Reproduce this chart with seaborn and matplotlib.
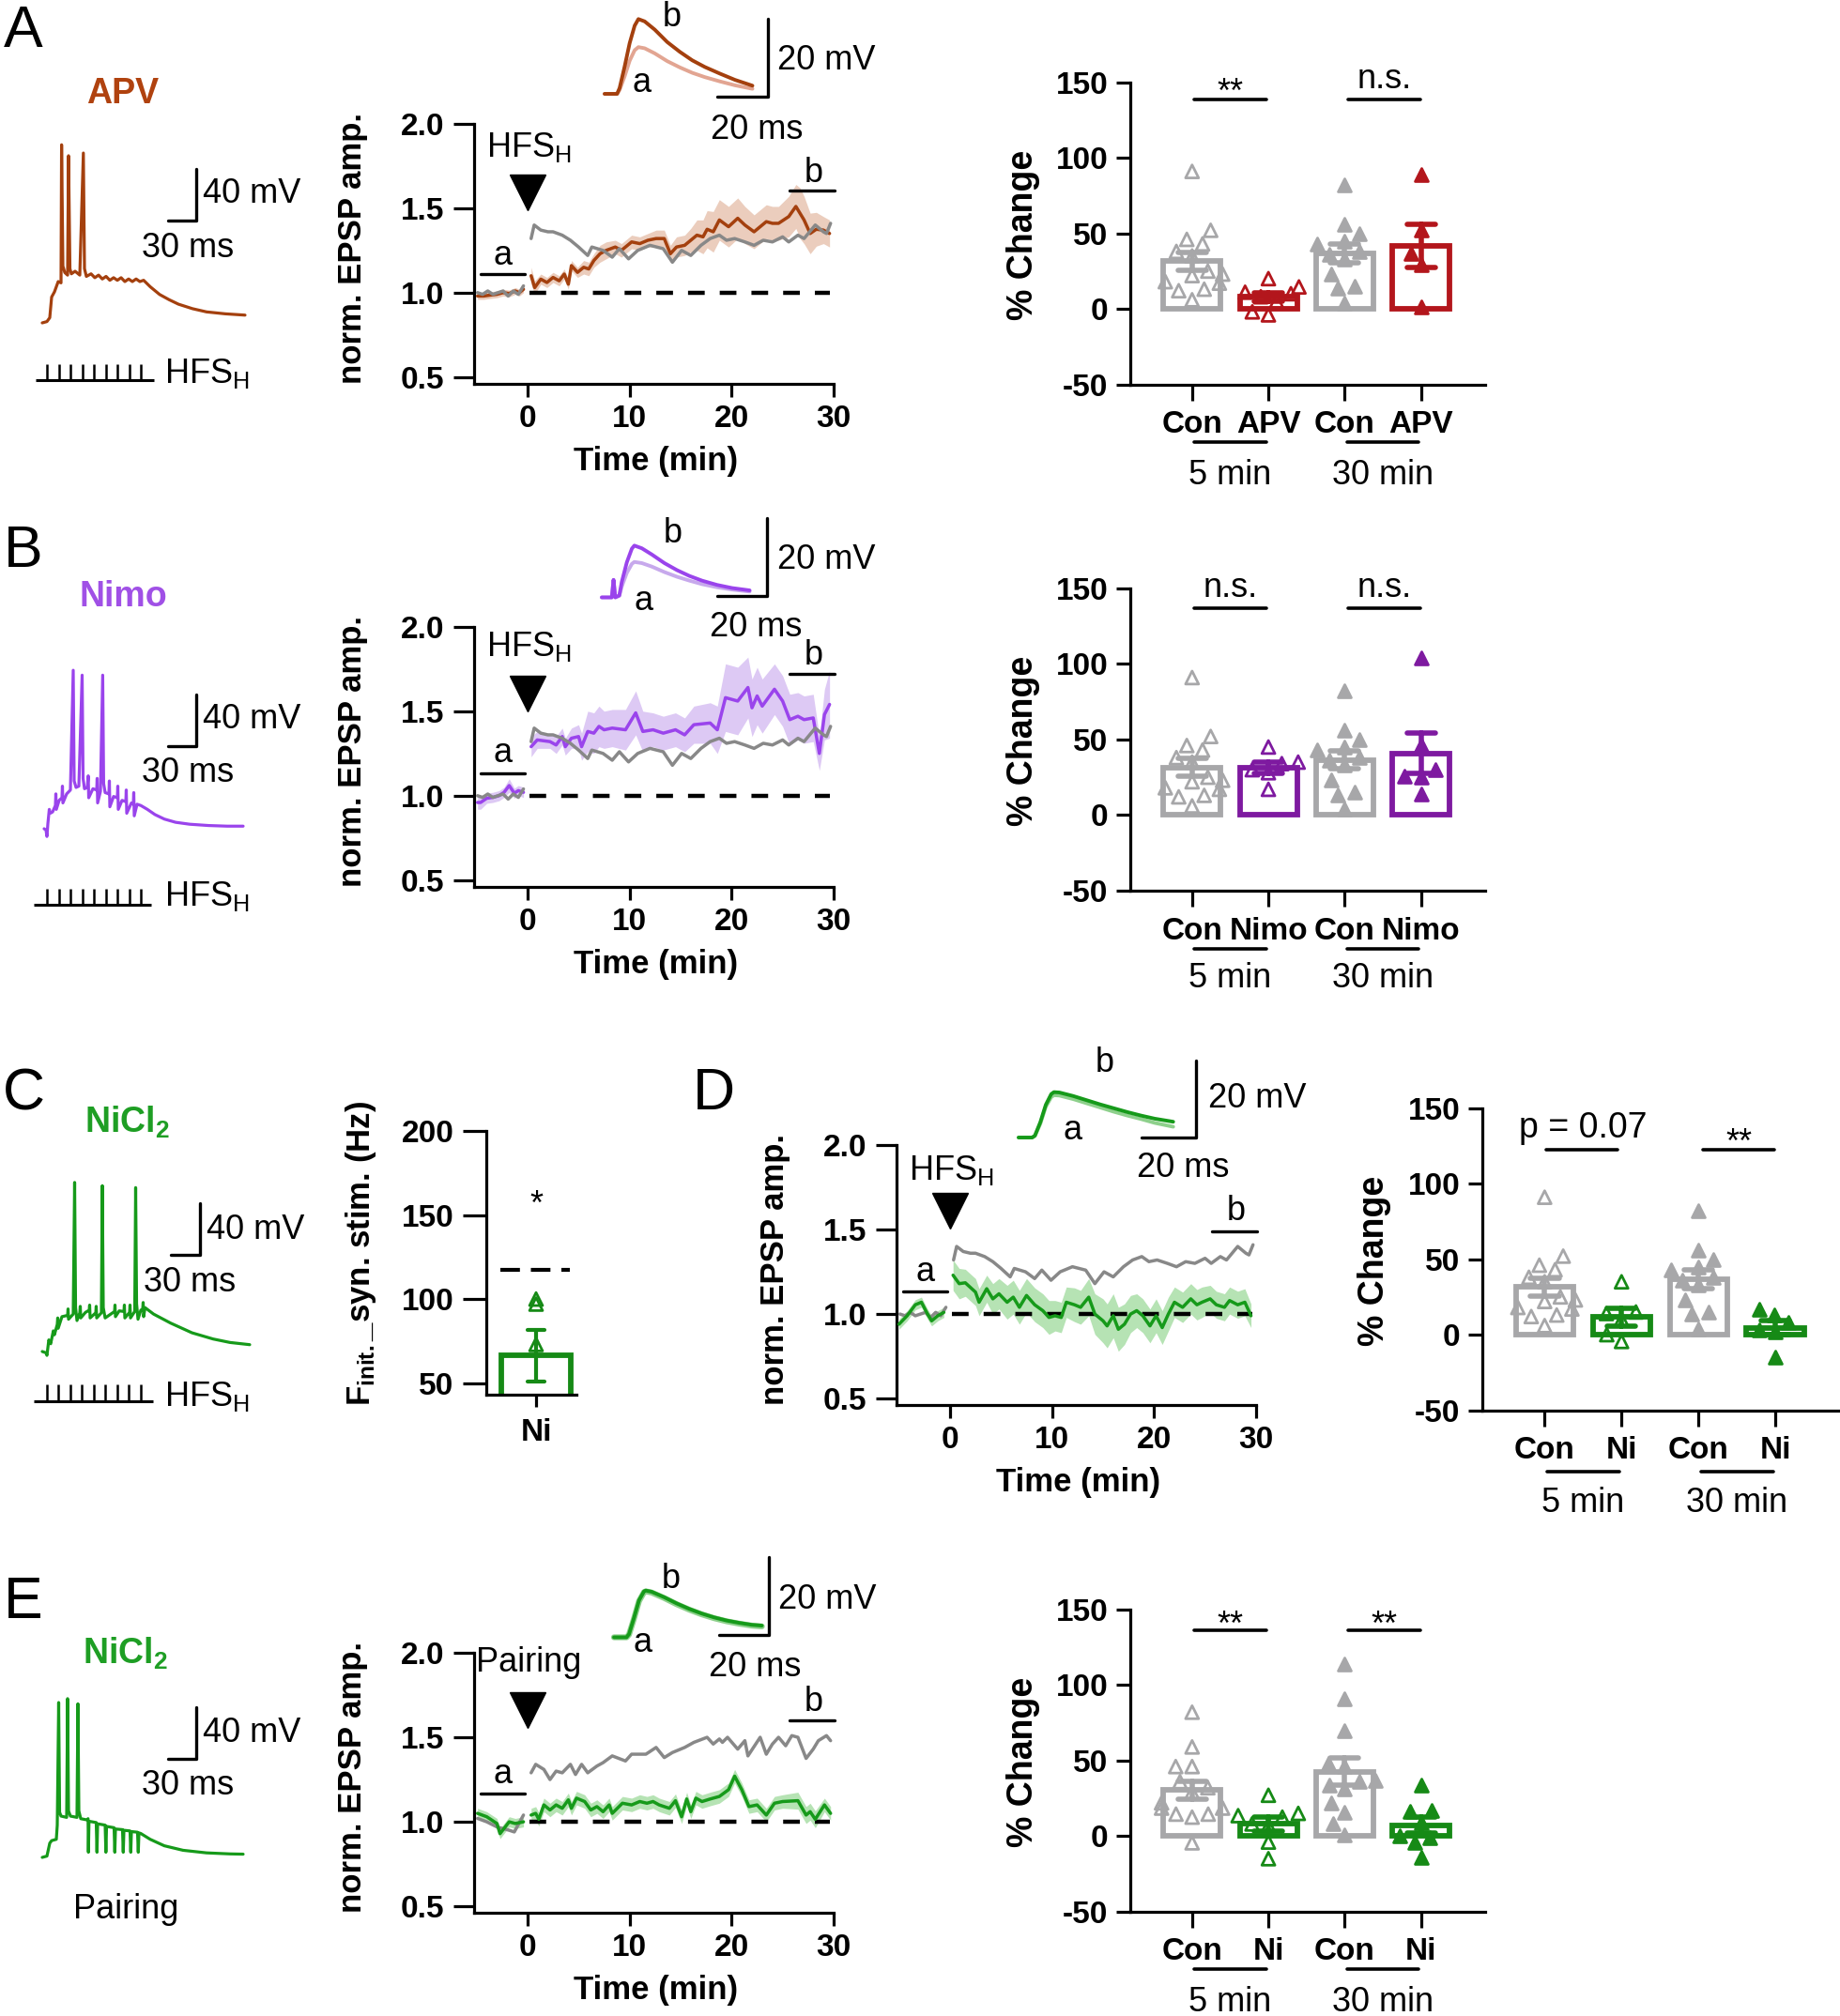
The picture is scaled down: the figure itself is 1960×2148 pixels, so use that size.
import numpy as np
import pandas as pd
import matplotlib
matplotlib.use("Agg")
import matplotlib.pyplot as plt
import seaborn as sns

# ---------------- values ----------------
# induction traces (ms, mV)
apv_spikes = [(0, -70), (5, -69), (8, -66), (10, -50), (13, -46), (17, -38), (20, -39), (20.6, 68), (22, -26),
              (24, -31), (27, -33), (28, 59.5), (29.5, -28), (31, -32), (35, -30), (40, -33), (43.8, 61.6),
              (45, -28), (47, -34), (52, -32), (56, -35), (60, -33), (64, -36), (68, -34), (72, -37), (76, -35),
              (80, -37), (84, -35), (88, -38), (92, -36), (96, -38), (100, -36), (104, -38), (108, -37),
              (115, -42), (125, -48), (135, -52), (145, -55.5), (160, -59), (175, -61.5), (195, -63), (216, -64)]
nimo_spikes = [(0, -70), (2, -71), (3, -76), (4, -66), (5.5, -55), (6.5, -58), (9, -57), (12, -52), (12.5, -43),
               (13, -55), (16, -48), (19, -46), (19.5, -37), (20, -50), (24, -43), (28, -40), (31, 52.8),
               (32, -33), (34, -38), (37, -37), (40.5, 49), (41.5, -31), (43, -39), (46, -38), (47, -29),
               (47.5, -46), (52, -39), (56, -40), (56.5, -31), (57, -50), (60, -41), (62.4, 49), (63.4, -35),
               (65, -42), (69, -43), (69.5, -33), (70, -53), (74, -45), (78, -46), (78.5, -37), (79, -55),
               (83, -48), (87, -49), (87.5, -40), (88, -58), (93, -50), (95, -51), (95.5, -42), (96, -60),
               (99, -51), (103, -52), (110, -55), (118, -59), (128, -62.5), (140, -65), (155, -66.5),
               (175, -67.5), (195, -68), (212, -68)]
ni_hfs_spikes = [(0, -70), (4, -71), (5, -73), (7, -61), (9, -64), (11.8, -54), (13, -57), (16, -49), (16.5, -44),
                 (17, -52), (21, -43), (27, -42), (27.5, -37), (28, -45), (33, -41), (34.5, 61), (35.5, -36),
                 (37, -46), (40, -40), (40.5, -35), (41, -44), (46, -39.7), (50, -38), (50.5, -34), (51, -44),
                 (57, -40), (57.5, -35), (58, -44), (63, -40), (64, 58.5), (65, -36), (67, -44), (73, -41),
                 (77, -39), (77.5, -34), (78, -43), (82, -38.5), (87, -39), (87.5, -34), (88, -44), (93, -39.7),
                 (93.5, -34), (94, -44), (98.5, -39), (99.5, 57), (100.5, -33), (102, -45), (105, -38),
                 (107, -37), (107.5, -32), (108, -43), (109.5, -36), (118.6, -41), (136.8, -48), (159.5, -55.5),
                 (182, -60.3), (200, -63), (221, -64.7)]
ni_pair_spikes = [(0, -70), (5, -69), (8, -59), (10, -57), (15, -56), (16, -45), (17.5, 50), (18.5, -35), (20, -38),
                  (26, -39), (27, 53), (28, -34), (30, -38), (37, -39), (38, 49), (39, -34), (41, -40), (48, -41),
                  (48.8, -40), (49.2, -66), (49.8, -42), (57.5, -43), (58.3, -66), (59, -44), (67, -45),
                  (67.8, -66), (68.5, -46), (76.5, -47), (77.3, -66), (78, -48), (85.5, -48.5), (86.3, -66),
                  (87, -49), (93.5, -49.5), (94.3, -66), (95, -50), (101.5, -50.5), (102.3, -66), (103, -51),
                  (105, -51.5), (115, -56), (130, -61), (150, -64.5), (175, -66.5), (200, -67.3), (214, -67.5)]
stim_ms = [0, 12.5, 25, 37.5, 50, 62.5, 75, 87.5, 100]

# example EPSPs (ms, mV): a = baseline, b = 30 min
apv_epsp_t = [0, 5, 6, 8, 10, 12, 13.5, 16, 20, 25, 30, 35, 40, 46, 52, 59]
apv_epsp_a = [0, 0, 1, 4.5, 8.5, 11.2, 12, 11.7, 10.4, 8.4, 6.8, 5.4, 4.3, 3.2, 2.2, 1.3]
apv_epsp_b = [0, 0, 1.5, 7, 13, 17.5, 19.2, 18.6, 16.5, 13.3, 10.8, 8.6, 6.9, 5.2, 3.6, 2.1]
nimo_epsp_t = [0, 4, 4.7, 5.4, 7, 8, 10, 12, 13, 16, 20, 25, 30, 35, 40, 46, 52, 59]
nimo_epsp_a = [0, 0, 4.5, 0, 0.4, 2.8, 6.3, 8.6, 9.1, 8.8, 7.9, 6.5, 5.3, 4.3, 3.4, 2.6, 2.0, 1.5]
nimo_epsp_b = [0, 0, 4.5, 0, 0.5, 4, 9, 12.5, 13.3, 12.6, 11, 8.8, 7, 5.5, 4.3, 3.2, 2.4, 1.8]
nid_epsp_t = [0, 5, 6, 8, 10, 12, 13, 15, 20, 25, 30, 35, 40, 45, 50, 56.8]
nid_epsp_a = [0, 0, 0.4, 3.6, 8, 10.5, 11, 10.9, 10, 8.9, 7.8, 6.7, 5.7, 4.8, 3.8, 2.8]
nid_epsp_b = [0, 0, 0.5, 4, 8.5, 11.3, 11.8, 11.7, 10.8, 9.7, 8.6, 7.6, 6.6, 5.7, 4.9, 4.1]
nie_epsp_t = [0, 5, 6, 8, 10, 12, 12.7, 15, 20, 25, 30, 35, 40, 45, 50, 55, 59]
nie_epsp_a = [0, 0, 0.7, 4.8, 9.3, 11.6, 11.8, 11.5, 10.1, 8.5, 7.1, 5.9, 4.9, 4.1, 3.5, 3.0, 2.8]
nie_epsp_b = [0, 0, 0.8, 5, 9.5, 11.8, 12, 11.7, 10.3, 8.7, 7.3, 6.1, 5.1, 4.3, 3.7, 3.2, 3.0]

# time courses (min, norm. EPSP amp., sem)
con_pre = [(-4.9, 1.0), (-4.4, 0.99), (-3.9, 1.01), (-3.4, 0.99), (-2.9, 1.0), (-2.4, 1.01), (-1.9, 0.98),
           (-1.4, 1.01), (-0.9, 0.99), (-0.4, 1.04)]
con_post = [(0.35, 1.32), (0.65, 1.40), (1.3, 1.37), (2.0, 1.36), (2.5, 1.36), (3.4, 1.34), (4.2, 1.31), (5.0, 1.27),
            (5.9, 1.22), (6.3, 1.27), (7.4, 1.25), (8.3, 1.21), (9.0, 1.26), (9.9, 1.20), (10.8, 1.25),
            (12.0, 1.28), (13.3, 1.26), (14.2, 1.18), (15.1, 1.25), (16.0, 1.22), (17.0, 1.28), (17.9, 1.32),
            (18.8, 1.34), (19.5, 1.31), (20.3, 1.32), (21.3, 1.30), (22.2, 1.28), (23.1, 1.31), (24.0, 1.30),
            (25.0, 1.33), (25.6, 1.30), (26.5, 1.34), (27.1, 1.32), (28.2, 1.40), (29.0, 1.36), (29.3, 1.35),
            (29.7, 1.41)]
apv_pre = [(-4.9, 0.98, 0.02), (-4.3, 0.98, 0.02), (-3.7, 0.985, 0.02), (-3.0, 0.99, 0.02), (-2.4, 1.0, 0.02),
           (-1.8, 0.995, 0.02), (-1.2, 1.01, 0.02), (-0.8, 1.0, 0.02), (-0.4, 1.02, 0.02)]
apv_post = [(0.35, 1.10, 0.05), (0.7, 1.03, 0.04), (1.3, 1.08, 0.03), (1.9, 1.06, 0.03), (2.5, 1.09, 0.03),
            (3.1, 1.07, 0.03), (3.6, 1.11, 0.03), (4.0, 1.05, 0.03), (4.3, 1.16, 0.03), (4.9, 1.12, 0.03),
            (5.5, 1.15, 0.04), (6.0, 1.14, 0.04), (6.5, 1.19, 0.04), (7.1, 1.23, 0.05), (7.7, 1.25, 0.05),
            (8.6, 1.27, 0.04), (9.2, 1.25, 0.04), (10.2, 1.30, 0.04), (11.0, 1.29, 0.04), (11.8, 1.31, 0.04),
            (12.6, 1.32, 0.05), (13.4, 1.32, 0.05), (14.0, 1.23, 0.05), (14.6, 1.27, 0.06), (15.4, 1.28, 0.06),
            (16.0, 1.31, 0.07), (16.6, 1.34, 0.09), (17.2, 1.33, 0.10), (17.6, 1.375, 0.11), (18.2, 1.36, 0.12),
            (18.8, 1.43, 0.12), (19.7, 1.39, 0.12), (20.6, 1.44, 0.12), (21.3, 1.40, 0.11), (22.2, 1.36, 0.10),
            (23.0, 1.40, 0.10), (23.4, 1.42, 0.10), (24.0, 1.41, 0.10), (24.6, 1.41, 0.10), (25.6, 1.45, 0.12),
            (26.3, 1.51, 0.13), (26.7, 1.47, 0.15), (27.1, 1.43, 0.14), (27.7, 1.35, 0.12), (28.3, 1.375, 0.10),
            (29.0, 1.37, 0.08), (29.6, 1.35, 0.08)]
nimo_pre = [(-4.9, 0.96, 0.04), (-4.6, 0.96, 0.04), (-4.0, 0.985, 0.03), (-3.4, 0.99, 0.03), (-2.8, 1.0, 0.03),
            (-2.3, 1.02, 0.03), (-1.8, 1.06, 0.04), (-1.3, 1.015, 0.03), (-0.9, 1.03, 0.03), (-0.4, 1.02, 0.03)]
nimo_post = [(0.35, 1.29, 0.06), (0.95, 1.33, 0.05), (2.2, 1.32, 0.04), (2.8, 1.30, 0.05), (3.4, 1.35, 0.05),
             (3.7, 1.29, 0.05), (4.3, 1.34, 0.06), (5.0, 1.35, 0.07), (5.3, 1.29, 0.08), (5.9, 1.38, 0.12),
             (6.5, 1.37, 0.12), (7.0, 1.41, 0.12), (7.5, 1.39, 0.11), (8.3, 1.40, 0.11), (9.6, 1.39, 0.12),
             (10.6, 1.49, 0.13), (11.3, 1.38, 0.12), (12.3, 1.39, 0.10), (13.3, 1.37, 0.10), (14.5, 1.39, 0.10),
             (15.4, 1.36, 0.10), (16.3, 1.42, 0.11), (17.9, 1.43, 0.12), (18.6, 1.39, 0.14), (19.4, 1.58, 0.20),
             (20.6, 1.56, 0.20), (21.6, 1.64, 0.18), (22.0, 1.52, 0.17), (22.5, 1.59, 0.17), (23.0, 1.53, 0.16),
             (24.2, 1.63, 0.15), (25.0, 1.56, 0.15), (25.7, 1.45, 0.15), (26.5, 1.47, 0.14), (27.1, 1.45, 0.14),
             (28.0, 1.46, 0.14), (28.6, 1.25, 0.10), (29.1, 1.48, 0.15), (29.6, 1.54, 0.20)]
nid_pre = [(-5.0, 0.94, 0.03), (-4.2, 0.99, 0.03), (-3.4, 1.055, 0.03), (-2.8, 1.07, 0.03), (-2.2, 1.0, 0.03),
           (-1.8, 0.96, 0.03), (-1.2, 0.99, 0.03), (-0.6, 1.01, 0.03)]
nid_post = [(0.3, 1.23, 0.09), (0.9, 1.18, 0.09), (1.5, 1.185, 0.08), (2.5, 1.13, 0.08), (2.85, 1.07, 0.08),
            (3.6, 1.15, 0.08), (4.2, 1.09, 0.09), (4.8, 1.12, 0.09), (5.6, 1.07, 0.10), (6.2, 1.10, 0.10),
            (6.8, 1.04, 0.10), (7.5, 1.11, 0.10), (8.3, 1.055, 0.10), (9.1, 1.02, 0.10), (9.7, 0.98, 0.10),
            (10.3, 0.99, 0.09), (10.9, 0.98, 0.09), (11.4, 1.07, 0.09), (12.2, 1.055, 0.10), (12.8, 1.04, 0.10),
            (13.6, 1.10, 0.11), (14.2, 1.0, 0.12), (15.0, 0.96, 0.13), (15.4, 0.93, 0.13), (16.0, 0.99, 0.13),
            (16.5, 0.91, 0.13), (17.1, 0.94, 0.12), (17.7, 1.0, 0.11), (18.3, 1.02, 0.10), (18.9, 0.99, 0.10),
            (19.6, 0.93, 0.10), (20.2, 0.99, 0.10), (20.8, 0.92, 0.10), (21.4, 1.0, 0.10), (22.0, 1.07, 0.09),
            (22.8, 1.04, 0.09), (23.6, 1.09, 0.09), (24.2, 1.055, 0.09), (24.7, 1.07, 0.09), (25.5, 1.09, 0.08),
            (26.1, 1.055, 0.08), (26.9, 1.04, 0.08), (27.4, 1.08, 0.08), (28.2, 1.055, 0.08), (28.9, 1.07, 0.08),
            (29.5, 0.99, 0.07)]
nie_pre = [(-4.9, 1.05, 0.03), (-4.0, 1.03, 0.03), (-3.0, 0.99, 0.03), (-2.7, 0.93, 0.03), (-1.8, 1.0, 0.03),
           (-1.2, 0.99, 0.03), (-0.4, 1.0, 0.03)]
nie_post = [(0.35, 1.04, 0.04), (0.8, 1.05, 0.04), (1.1, 1.015, 0.04), (1.6, 1.10, 0.04), (2.2, 1.07, 0.04),
            (2.8, 1.10, 0.04), (3.4, 1.08, 0.04), (4.0, 1.13, 0.04), (4.3, 1.08, 0.04), (4.8, 1.14, 0.04),
            (5.6, 1.12, 0.04), (6.2, 1.07, 0.04), (6.8, 1.09, 0.04), (7.4, 1.06, 0.04), (8.0, 1.10, 0.04),
            (8.3, 1.05, 0.04), (9.3, 1.11, 0.04), (10.2, 1.10, 0.04), (11.0, 1.12, 0.04), (11.7, 1.11, 0.04),
            (12.3, 1.12, 0.04), (12.9, 1.10, 0.04), (13.9, 1.08, 0.04), (14.5, 1.125, 0.04), (15.1, 1.03, 0.04),
            (15.6, 1.135, 0.04), (16.0, 1.06, 0.04), (16.5, 1.14, 0.04), (17.1, 1.12, 0.04), (17.9, 1.135, 0.04),
            (18.8, 1.15, 0.04), (19.7, 1.19, 0.04), (20.3, 1.27, 0.04), (21.0, 1.19, 0.04), (21.7, 1.09, 0.04),
            (22.5, 1.10, 0.04), (23.4, 1.04, 0.04), (24.2, 1.11, 0.04), (25.0, 1.12, 0.04), (26.5, 1.125, 0.05),
            (27.3, 1.04, 0.05), (27.7, 1.06, 0.05), (28.2, 1.015, 0.05), (29.1, 1.10, 0.04), (29.7, 1.05, 0.04)]
cone_pre = [(-4.9, 1.02), (-4.0, 1.0), (-3.0, 0.97), (-1.8, 0.95), (-1.3, 0.94), (-0.4, 1.04)]
cone_post = [(0.35, 1.29), (0.8, 1.34), (1.6, 1.31), (2.2, 1.25), (2.8, 1.30), (3.4, 1.29), (4.2, 1.34), (4.7, 1.28),
             (5.3, 1.34), (5.9, 1.29), (6.8, 1.33), (7.4, 1.35), (8.3, 1.39), (9.6, 1.36), (10.2, 1.40),
             (11.6, 1.40), (12.6, 1.44), (13.4, 1.38), (14.2, 1.41), (15.4, 1.44), (16.3, 1.47), (17.6, 1.50),
             (18.2, 1.46), (18.8, 1.49), (19.1, 1.47), (19.6, 1.50), (20.6, 1.43), (21.3, 1.48), (21.6, 1.39),
             (22.8, 1.50), (23.4, 1.40), (24.0, 1.46), (24.6, 1.50), (25.3, 1.45), (25.9, 1.51), (26.5, 1.50),
             (27.3, 1.375), (28.0, 1.43), (28.5, 1.48), (29.3, 1.51), (29.7, 1.48)]

# % change per cell
con5 = [91, 52, 46, 43, 38, 35, 25, 23, 22, 18, 17, 13, 12, 6]
con30 = [82, 56, 50, 45, 43, 38, 36, 33, 23, 15, 13.5, 4]
apv5 = [20, 14.5, 11, 10, 8, 5, -2, -4]
apv30 = [89, 52, 37, 29, 1]
nimo5 = [45, 35, 34, 30, 28, 17]
nimo30 = [104, 46, 30, 26, 25, 14]
ni5 = [35, 15, 14, 10, 0, -4.5]
ni30 = [17, 13, 8, 3, 2, -15]
pair_con5 = [82, 59, 46, 46, 36, 32, 29, 22, 18.5, 18.5, 14.5, 12.5, 14.5, -4.5]
pair_con30 = [114, 91, 70, 48, 46, 37, 36, 34, 31, 22, 16, 8, 1]
pair_ni5 = [27, 15, 13.5, 12.5, 8, 7, -4, -15]
pair_ni30 = [33.5, 17, 16.5, 9, 0, -1, -4.5, -14]
finit_ni = [100, 97, 73, 38, 24]
finit_con = 117.6

# ---------------- style ----------------
sns.set_theme(style="ticks")
plt.rcParams["font.family"] = ["Liberation Sans", "DejaVu Sans"]
plt.rcParams["mathtext.fontset"] = "custom"
plt.rcParams["mathtext.rm"] = "Liberation Sans"
plt.rcParams["mathtext.bf"] = "Liberation Sans:bold"
plt.rcParams["mathtext.it"] = "Liberation Sans:italic"
for k in ["text.color", "axes.edgecolor", "axes.labelcolor", "xtick.color", "ytick.color"]:
    plt.rcParams[k] = "black"
plt.rcParams["axes.linewidth"] = 2.3

APV_C, APV_BAND, APV_BAR, APV_A = "#A4400E", "#EBCDBD", "#B3161C", "#E2A592"
NIMO_C, NIMO_BAND, NIMO_BAR, NIMO_A = "#9A44EC", "#DDC9F4", "#7E1AA0", "#C7A9EC"
NI_C, NI_BAND, NI_BAR, NI_A = "#169A1A", "#B6E3B4", "#168A16", "#8ED08C"
GRAY_BAR, GRAY_LINE = "#A7A7A9", "#888888"
DASH = (0, (4.0, 3.6))
TICK_FS, LAB_FS, TXT_FS = 24, 25, 26

W, H = 1960, 2148
fig = plt.figure(figsize=(W / 100, H / 100), dpi=100)


def px_axes(l, t, r, b):
    ax = fig.add_axes([l / W, 1 - b / H, (r - l) / W, (b - t) / H])
    ax.set_facecolor("none")
    return ax


def ftext(x, y, s, **kw):
    kw.setdefault("ha", "center")
    kw.setdefault("va", "center")
    fig.text(x / W, 1 - y / H, s, **kw)


def trace_axes(box, x0, y0, sx, sy, v0=0.0):
    l, t, r, b = box
    ax = px_axes(l, t, r, b)
    ax.set_xlim((l - x0) / sx, (r - x0) / sx)
    ax.set_ylim(v0 + (y0 - b) / sy, v0 + (y0 - t) / sy)
    ax.axis("off")
    return ax


def spike_panel(box, origin, pairs, color, bars, stim=None):
    ax = trace_axes(box, origin[0], origin[1], 1.0, 1.375, v0=-70)
    t, v = zip(*pairs)
    sns.lineplot(x=list(t), y=list(v), sort=False, estimator=None, color=color, lw=2.3, ax=ax)
    tb0, tb1, vb0, vb1 = bars
    ax.plot([tb0, tb1, tb1], [vb0, vb0, vb1], color="black", lw=2.4)
    if stim:
        onset, t0, t1, vbase, vtop = stim
        ax.hlines(vbase, t0, t1, color="black", lw=2.2)
        ax.vlines([onset + s for s in stim_ms], vbase, vtop, color="black", lw=1.8)


def epsp_inset(box, origin, sx, sy, t, a, b, col_a, col_b, bar_t, bar_v, lw_a=2.8):
    ax = trace_axes(box, origin[0], origin[1], sx, sy)
    sns.lineplot(x=t, y=a, sort=False, estimator=None, color=col_a, lw=lw_a, ax=ax)
    sns.lineplot(x=t, y=b, sort=False, estimator=None, color=col_b, lw=2.8, ax=ax)
    ax.plot([bar_t - 20, bar_t, bar_t], [bar_v, bar_v, bar_v + 20], color="black", lw=2.4)


def draw_series(ax, pre, post, color, band=None, lw=2.5, z=3):
    if band is not None:
        for seg in (pre, post):
            arr = np.array(seg, dtype=float)
            ax.fill_between(arr[:, 0], arr[:, 1] - arr[:, 2], arr[:, 1] + arr[:, 2], color=band, lw=0, zorder=1)
    rows = [(p[0], p[1], "pre") for p in pre] + [(p[0], p[1], "post") for p in post]
    df = pd.DataFrame(rows, columns=["t", "v", "seg"])
    sns.lineplot(data=df, x="t", y="v", units="seg", estimator=None, sort=False, color=color, lw=lw,
                 ax=ax, zorder=z)


def time_axes(left, top, label, label_y, a_y, a_txt, b_y, b_txt, tri_y):
    ax = px_axes(left, top, left + 383, top + 277)
    ax.set_xlim(-5.24, 30)
    ax.set_ylim(0.462, 2.0)
    ax.hlines(1.0, 0.2, 29.6, colors="black", linestyles=DASH, lw=3.2, zorder=2)
    ax.plot([-4.6, -0.3], [a_y, a_y], color="black", lw=2.4)
    ax.text(-2.4, a_txt, "a", fontsize=TXT_FS, ha="center", va="center")
    ax.plot([25.7, 30.1], [b_y, b_y], color="black", lw=2.4, clip_on=False)
    ax.text(28.0, b_txt, "b", fontsize=TXT_FS, ha="center", va="center")
    ax.plot([0], [tri_y], marker="v", ms=27, color="black", clip_on=False)
    ax.text(0.1, label_y, label, fontsize=TXT_FS, ha="center", va="center")
    return ax


def finish_time_axes(ax):
    sns.despine(ax=ax)
    ax.set_xlim(-5.24, 30)
    ax.set_ylim(0.462, 2.0)
    ax.set_xticks([0, 10, 20, 30], ["0", "10", "20", "30"], fontweight="bold", fontsize=TICK_FS)
    ax.set_yticks([0.5, 1.0, 1.5, 2.0], ["0.5", "1.0", "1.5", "2.0"], fontweight="bold", fontsize=TICK_FS)
    ax.tick_params(axis="y", length=16, width=2.3, pad=7)
    ax.tick_params(axis="x", length=10, width=2.3, pad=6)
    ax.set_ylabel("norm. EPSP amp.", fontweight="bold", fontsize=LAB_FS)
    ax.yaxis.set_label_coords(-0.295, 0.52)
    ax.set_xlabel("Time (min)", fontweight="bold", fontsize=LAB_FS)
    ax.xaxis.set_label_coords(0.505, -0.24)


def pct_panel(left, top, right, groups, colors, ticklabels, sig, under_y, min_y):
    names = ["c5", "t5", "c30", "t30"]
    ax = px_axes(left, top, right, top + 321.8)
    df = pd.DataFrame([(n, v) for n, vals in zip(names, groups) for v in vals], columns=["grp", "val"])
    pal = dict(zip(names, colors))
    sns.barplot(data=df, x="grp", y="val", hue="grp", order=names, hue_order=names, palette=pal, fill=False,
                errorbar="se", capsize=0.37, width=0.75, linewidth=4.2, err_kws={"linewidth": 4.0},
                legend=False, ax=ax)
    for i, n in enumerate(names):
        k = len(ax.collections)
        sns.swarmplot(data=df[df.grp == n], x="grp", y="val", order=names, color=colors[i],
                      edgecolor=colors[i], linewidth=2.0, marker="^", size=10, ax=ax, zorder=4)
        if i in (0, 1):
            for c in ax.collections[k:]:
                c.set_facecolor("none")
    sns.despine(ax=ax)
    ax.set_xlim(-0.81, 3.84)
    ax.set_ylim(-50, 150)
    ax.set_yticks([-50, 0, 50, 100, 150], ["-50", "0", "50", "100", "150"], fontweight="bold", fontsize=TICK_FS)
    ax.set_xticks(range(4), ticklabels, fontweight="bold", fontsize=TICK_FS)
    ax.tick_params(axis="y", length=11, width=2.3, pad=6)
    ax.tick_params(axis="x", length=12, width=2.3, pad=8)
    ax.set_xlabel("")
    ax.set_ylabel("% Change", fontweight="bold", fontsize=27)
    ax.yaxis.set_label_coords(-0.255, 0.494)
    for x0, x1, txt, ty, ly in sig:
        ax.plot([x0, x1], [ly, ly], color="black", lw=2.6, clip_on=False)
        ax.text((x0 + x1) / 2, ty, txt, fontsize=TXT_FS, ha="center", va="baseline", clip_on=False)
    for p, lab in ((0, "5 min"), (2, "30 min")):
        ax.plot([p + 0.03, p + 0.97], [under_y, under_y], color="black", lw=2.6, clip_on=False)
        ax.text(p + 0.5, min_y, lab, fontsize=TXT_FS, ha="center", va="center", clip_on=False)
    return ax


HFS = r"HFS$_\mathregular{H}$"

# ---------------- panel letters & drug labels ----------------
for s, x, y in (("A", 25, 33), ("B", 25, 587), ("C", 25, 1166), ("D", 760, 1166), ("E", 25, 1707)):
    ftext(x, y, s, fontsize=45)
ftext(131, 100, "APV", fontsize=27, fontweight="bold", color="#B0420F")
ftext(131, 636, "Nimo", fontsize=27, fontweight="bold", color="#A050E6")
ftext(135, 1196, r"NiCl$_\mathbf{2}$", fontsize=27, fontweight="bold", color="#1E9E24")
ftext(133, 1762, r"NiCl$_\mathbf{2}$", fontsize=27, fontweight="bold", color="#1E9E24")

# ---------------- induction traces ----------------
spike_panel((0, 110, 480, 440), (45, 344), apv_spikes, APV_C, (134, 164, 9.3, 49.3), (5, -7.5, 119, -114.4, -102))
spike_panel((0, 680, 480, 1000), (47, 883), nimo_spikes, NIMO_C, (132, 162, -6, 34), (3, -11, 114, -128.9, -116.5))
spike_panel((0, 1230, 480, 1520), (45, 1440), ni_hfs_spikes, NI_C, (137, 167.7, 5.1, 45.1),
            (4.5, -9, 118, -108.8, -95.5))
spike_panel((0, 1790, 480, 2000), (45, 1979), ni_pair_spikes, NI_C, (134, 164, 6.5, 46.5))
for y40, y30, yh in ((207, 264, 398), (767, 824, 955)):
    ftext(216, y40, "40 mV", fontsize=TXT_FS, ha="left")
    ftext(151, y30, "30 ms", fontsize=TXT_FS, ha="left")
    ftext(175, yh, HFS, fontsize=TXT_FS, ha="left")
ftext(220, 1310, "40 mV", fontsize=TXT_FS, ha="left")
ftext(153, 1366, "30 ms", fontsize=TXT_FS, ha="left")
ftext(175, 1488, HFS, fontsize=TXT_FS, ha="left")
ftext(216, 1846, "40 mV", fontsize=TXT_FS, ha="left")
ftext(151, 1903, "30 ms", fontsize=TXT_FS, ha="left")
ftext(134, 2035, "Pairing", fontsize=TXT_FS)

# ---------------- EPSP insets ----------------
epsp_inset((600, 0, 900, 170), (644, 100), 2.67, 4.15, apv_epsp_t, apv_epsp_a, apv_epsp_b, APV_A, APV_C, 65, -0.8)
epsp_inset((600, 540, 900, 700), (641, 636.5), 2.67, 4.15, nimo_epsp_t, nimo_epsp_a, nimo_epsp_b, NIMO_A, NIMO_C,
           66.1, 0.4)
epsp_inset((1050, 1100, 1340, 1260), (1085, 1212), 2.9, 4.1, nid_epsp_t, nid_epsp_a, nid_epsp_b, NI_A, NI_C,
           65.2, 0)
epsp_inset((600, 1640, 900, 1800), (654, 1744.5), 2.67, 4.15, nie_epsp_t, nie_epsp_a, nie_epsp_b, NI_A, NI_C,
           61.8, 0.6, lw_a=4.5)
for (bx, by), (ax_, ay), (mx, my), (sx_, sy_) in (
        ((716, 19), (684, 88), (828, 64), (806, 138)),
        ((717, 569), (686, 640), (828, 597), (805, 669)),
        ((1177, 1133), (1143, 1204), (1287, 1171), (1260, 1244)),
        ((715, 1682), (685, 1750), (829, 1704), (804, 1776))):
    ftext(bx, by, "b", fontsize=TXT_FS)
    ftext(ax_, ay, "a", fontsize=TXT_FS)
    ftext(mx, my, "20 mV", fontsize=TXT_FS, ha="left")
    ftext(sx_, sy_, "20 ms", fontsize=TXT_FS)

# ---------------- time courses ----------------
ax = time_axes(505, 131.7, HFS, 1.857, 1.11, 1.22, 1.605, 1.705, 1.595)
draw_series(ax, apv_pre, apv_post, APV_C, APV_BAND, z=3)
draw_series(ax, con_pre, con_post, GRAY_LINE, z=4)
finish_time_axes(ax)

ax = time_axes(505, 667.7, HFS, 1.88, 1.13, 1.25, 1.72, 1.83, 1.605)
draw_series(ax, nimo_pre, nimo_post, NIMO_C, NIMO_BAND, z=3)
draw_series(ax, con_pre, con_post, GRAY_LINE, z=4)
finish_time_axes(ax)

ax = time_axes(955, 1220, HFS, 1.85, 1.133, 1.25, 1.49, 1.61, 1.61)
draw_series(ax, nid_pre, nid_post, NI_C, NI_BAND, z=4)
draw_series(ax, con_pre, con_post, GRAY_LINE, z=3)
finish_time_axes(ax)

ax = time_axes(505, 1761, "Pairing", 1.94, 1.166, 1.28, 1.60, 1.71, 1.66)
draw_series(ax, nie_pre, nie_post, NI_C, NI_BAND, z=4)
draw_series(ax, cone_pre, cone_post, GRAY_LINE, z=3)
finish_time_axes(ax)

# ---------------- % change bar charts ----------------
pct_panel(1204, 87.7, 1582, [con5, apv5, con30, apv30], [GRAY_BAR, APV_BAR, GRAY_BAR, APV_BAR],
          ["Con", "APV", "Con", "APV"],
          [(0.03, 0.97, "**", 137.1, 138.7), (2.05, 2.99, "n.s.", 145.8, 138.7)], -88, -110)
pct_panel(1204, 627, 1582, [con5, nimo5, con30, nimo30], [GRAY_BAR, NIMO_BAR, GRAY_BAR, NIMO_BAR],
          ["Con", "Nimo", "Con", "Nimo"],
          [(0.03, 0.97, "n.s.", 144.2, 136.7), (2.05, 2.99, "n.s.", 144.2, 136.7)], -88.7, -108)
axd = pct_panel(1579, 1180.7, 1960, [con5, ni5, con30, ni30], [GRAY_BAR, NI_BAR, GRAY_BAR, NI_BAR],
                ["Con", "Ni", "Con", "Ni"],
                [(0.02, 0.95, "", 0, 122.4), (2.06, 2.99, "**", 120.5, 122.4)], -90.8, -111.3)
axd.text(0.5, 130.5, "p = 0.07", fontsize=TXT_FS + 1, ha="center", va="baseline")
pct_panel(1204, 1714.9, 1582, [pair_con5, pair_ni5, pair_con30, pair_ni30], [GRAY_BAR, NI_BAR, GRAY_BAR, NI_BAR],
          ["Con", "Ni", "Con", "Ni"],
          [(0.03, 0.97, "**", 133.3, 136), (2.05, 2.99, "**", 133.3, 136)], -88, -110)

# ---------------- C: initial frequency ----------------
axc = px_axes(518, 1205, 614, 1486)
dfc = pd.DataFrame({"grp": ["Ni"] * len(finit_ni), "val": finit_ni})
sns.barplot(data=dfc, x="grp", y="val", color=NI_BAR, fill=False, errorbar="se", capsize=0.2, width=0.8,
            linewidth=4.2, err_kws={"linewidth": 3.0}, ax=axc)
k = len(axc.collections)
sns.stripplot(data=dfc, x="grp", y="val", jitter=False, color=NI_BAR, edgecolor=NI_BAR, linewidth=2.0,
              marker="^", size=10, ax=axc, zorder=4)
for c in axc.collections[k:]:
    c.set_facecolor("none")
axc.hlines(finit_con, -0.42, 0.39, colors="black", linestyles=(0, (5.0, 2.8)), lw=3.0)
axc.text(0, 150.4, "*", fontsize=TXT_FS, ha="center", va="baseline")
sns.despine(ax=axc)
axc.set_xlim(-0.58, 0.47)
axc.set_ylim(43.1, 200)
axc.set_yticks([50, 100, 150, 200], ["50", "100", "150", "200"], fontweight="bold", fontsize=TICK_FS)
axc.set_xticks([0], ["Ni"], fontweight="bold", fontsize=TICK_FS)
axc.tick_params(axis="y", length=18, width=2.3, pad=7)
axc.tick_params(axis="x", length=9, width=2.3, pad=9)
axc.set_xlabel("")
axc.set_ylabel(r"F$_{\mathbf{init.}}$_syn. stim. (Hz)", fontweight="bold", fontsize=LAB_FS)
axc.yaxis.set_label_coords(-1.2, 0.536)

fig.savefig("out.png", dpi=100)
